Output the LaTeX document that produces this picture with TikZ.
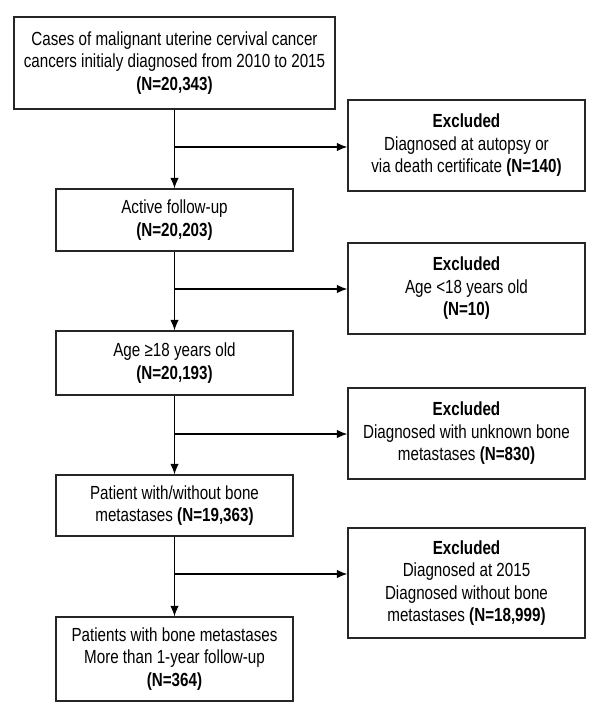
\documentclass[tikz,border=0pt]{standalone}
\usepackage{fontspec}
\setmainfont[FakeStretch=0.8]{Liberation Sans}
\usetikzlibrary{arrows.meta}

\tikzset{
  box/.style={draw=black!85, line width=0.9pt, align=center, inner sep=0pt, font=\fontsize{13.5}{16}\selectfont},
  mainbox/.style={box, minimum width=5.925cm},
  exclbox/.style={box, minimum width=5.925cm, minimum height=2.275cm},
  arr/.style={-{Latex[length=7.5pt,width=6pt]}, line width=0.8pt}
}

\begin{document}
\begin{tikzpicture}[x=0.025cm,y=-0.025cm]
                \useasboundingbox (0,0) rectangle (600,720);
                \node[box, minimum width=8.025cm, minimum height=2.3cm] (cases) at (174.5,63) {Cases of malignant uterine cervival cancer\\cancers initialy diagnosed from 2010 to 2015\\\textbf{(N=20,343)}};
                \node[mainbox, minimum height=1.55cm] (active) at (174.5,220) {Active follow-up\\\textbf{(N=20,203)}};
                \node[mainbox, minimum height=1.6cm] (adult) at (174.5,363) {Age ≥18 years old\\\textbf{(N=20,193)}};
                \node[mainbox, minimum height=1.525cm] (bone) at (174.5,505.5) {Patient with/without bone\\metastases \textbf{(N=19,363)}};
                \node[mainbox, minimum height=2.1cm] (final) at (174.5,659) {Patients with bone metastases\\More than 1-year follow-up\\\textbf{(N=364)}};
                \node[exclbox] (excl1) at (466.5,145.5) {\textbf{Excluded}\\Diagnosed at autopsy or\\via death certificate \textbf{(N=140)}};
                \node[exclbox] (excl2) at (466.5,288.5) {\textbf{Excluded}\\Age <18 years old\\\textbf{(N=10)}};
                \node[exclbox] (excl3) at (466.5,433.5) {\textbf{Excluded}\\Diagnosed with unknown bone\\metastases \textbf{(N=830)}};
                \node[exclbox, minimum height=2.75cm] (excl4) at (466.5,583) {\textbf{Excluded}\\Diagnosed at 2015\\Diagnosed without bone\\metastases \textbf{(N=18,999)}};
                \coordinate (s1) at (174.5,147);
                \coordinate (s2) at (174.5,289);
                \coordinate (s3) at (174.5,434);
                \coordinate (s4) at (174.5,574);
                \draw[arr] (cases.south) -- (active.north);
                \draw[arr] (active.south) -- (adult.north);
                \draw[arr] (adult.south) -- (bone.north);
                \draw[arr] (bone.south) -- (final.north);
                \draw[arr] (s1) -- (s1 -| excl1.west);
                \draw[arr] (s2) -- (s2 -| excl2.west);
                \draw[arr] (s3) -- (s3 -| excl3.west);
                \draw[arr] (s4) -- (s4 -| excl4.west);
            \end{tikzpicture}
\end{document}
